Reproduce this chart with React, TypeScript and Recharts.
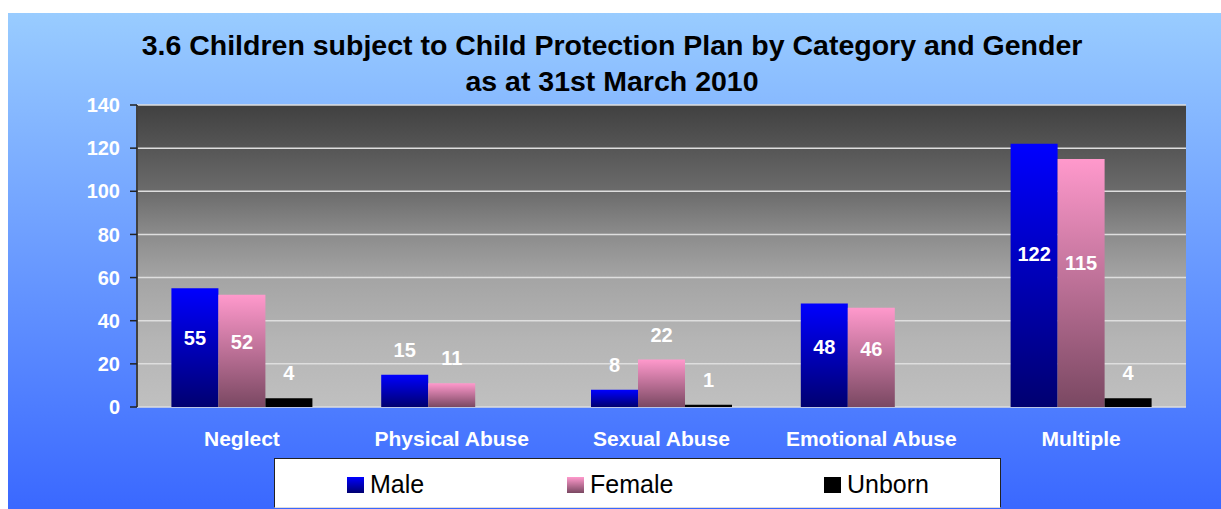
import React from 'react';
import { BarChart, Bar, XAxis, YAxis, CartesianGrid, LabelList, Legend } from 'recharts';

const categories = ['Neglect', 'Physical Abuse', 'Sexual Abuse', 'Emotional Abuse', 'Multiple'];
const male = [55, 15, 8, 48, 122];
const female = [52, 11, 22, 46, 115];
const unborn: (number | null)[] = [4, null, 1, null, 4];
const yTicks = [0, 20, 40, 60, 80, 100, 120, 140];
const edgeTicks = [0, 1, 2, 3, 4, 5];
const seriesNames = ['Male', 'Female', 'Unborn'];
const titleLines = [
  '3.6 Children subject to Child Protection Plan by Category and Gender',
  'as at 31st March 2010',
];

const data = categories.map((c, i) => ({
  category: c,
  Male: male[i],
  Female: female[i],
  Unborn: unborn[i],
}));

const FONT = '"Liberation Sans", Arial, Helvetica, sans-serif';

const swatch: Record<string, string> = {
  Male: 'linear-gradient(#0000FF, #000070)',
  Female: 'linear-gradient(#FF99CC, #7A4862)',
  Unborn: '#000000',
};
const legendSquareLeft = [72, 292, 549];

const renderLabel = (props: any) => {
  const vb = props.viewBox || props;
  const x = props.x ?? vb.x;
  const y = props.y ?? vb.y;
  const width = props.width ?? vb.width;
  const height = props.height ?? vb.height;
  const value = props.value;
  if (value == null) return null;
  const cx = x + width / 2;
  const cy = value >= 40 ? y + height * 0.42 : y - 25;
  return (
    <text
      x={cx}
      y={cy}
      fill="#ffffff"
      fontSize={20}
      fontWeight="bold"
      textAnchor="middle"
      dominantBaseline="central"
      fontFamily={FONT}
    >
      {value}
    </text>
  );
};

const renderLegend = () => (
  <div
    style={{
      position: 'relative',
      width: '100%',
      height: '100%',
      background: '#ffffff',
      borderTop: '1px solid #222',
      borderLeft: '1px solid #222',
      borderRight: '1px solid #222',
      borderBottom: '1px solid #dddddd',
      boxSizing: 'border-box',
    }}
  >
    {seriesNames.map((n, i) => (
      <React.Fragment key={n}>
        <div
          style={{
            position: 'absolute',
            left: legendSquareLeft[i],
            top: 18,
            width: 17,
            height: 16,
            background: swatch[n],
          }}
        />
        <span
          style={{
            position: 'absolute',
            left: legendSquareLeft[i] + 23,
            top: 13,
            fontSize: 25,
            lineHeight: '25px',
            color: '#000',
            fontFamily: FONT,
            whiteSpace: 'nowrap',
          }}
        >
          {n}
        </span>
      </React.Fragment>
    ))}
  </div>
);

export default function App() {
  return (
    <div
      style={{
        position: 'fixed',
        left: 8,
        top: 13,
        width: 1213,
        height: 496,
        background: 'linear-gradient(to bottom, #99CCFF, #3A68FF)',
        fontFamily: FONT,
        overflow: 'hidden',
      }}
    >
      <div
        style={{
          position: 'absolute',
          left: 0,
          top: 14,
          width: 1208,
          textAlign: 'center',
          fontSize: 28.5,
          lineHeight: '36px',
          fontWeight: 'bold',
          color: '#000',
          zIndex: 2,
        }}
      >
        {titleLines.map((t) => (
          <div key={t}>{t}</div>
        ))}
      </div>
      <BarChart
        width={1213}
        height={496}
        data={data}
        margin={{ top: 92, right: 35, bottom: 62, left: 69 }}
        barGap={0}
        barCategoryGap="16.4%"
      >
        <defs>
          <linearGradient id="plotGrad" x1="0" y1="0" x2="0" y2="1">
            <stop offset="0%" stopColor="#404040" />
            <stop offset="14%" stopColor="#555555" />
            <stop offset="29%" stopColor="#6c6c6c" />
            <stop offset="43%" stopColor="#8c8c8c" />
            <stop offset="57%" stopColor="#a4a4a4" />
            <stop offset="78%" stopColor="#b5b5b5" />
            <stop offset="100%" stopColor="#c0c0c0" />
          </linearGradient>
          <linearGradient id="gMale" x1="0" y1="0" x2="0" y2="1">
            <stop offset="0%" stopColor="#0000FF" />
            <stop offset="100%" stopColor="#000070" />
          </linearGradient>
          <linearGradient id="gFemale" x1="0" y1="0" x2="0" y2="1">
            <stop offset="0%" stopColor="#FF99CC" />
            <stop offset="100%" stopColor="#7A4862" />
          </linearGradient>
        </defs>
        <CartesianGrid
          xAxisId="b_cat"
          yAxisId="l"
          vertical={false}
          fill="url(#plotGrad)"
          fillOpacity={1}
          stroke="#dedede"
          strokeWidth={1.5}
        />
        <XAxis
          xAxisId="a_edges"
          type="number"
          domain={[0, 5]}
          ticks={edgeTicks}
          allowDataOverflow
          height={0}
          tick={false}
          tickSize={7}
          tickLine={{ stroke: '#222222', strokeWidth: 1.5 }}
          axisLine={{ stroke: '#404040', strokeWidth: 2 }}
        />
        <XAxis
          xAxisId="b_cat"
          dataKey="category"
          height={40}
          interval={0}
          axisLine={false}
          tickLine={false}
          tickSize={0}
          tickMargin={24}
          tick={{ fill: '#ffffff', fontSize: 21, fontWeight: 'bold' }}
        />
        <XAxis
          xAxisId="t"
          orientation="top"
          type="number"
          domain={[0, 5]}
          allowDataOverflow
          height={0}
          tick={false}
          tickLine={false}
          axisLine={{ stroke: '#888888', strokeWidth: 2 }}
        />
        <YAxis
          yAxisId="l"
          width={60}
          domain={[0, 140]}
          ticks={yTicks}
          interval={0}
          tickSize={7}
          tickMargin={10}
          tickLine={{ stroke: '#222222', strokeWidth: 1.5 }}
          axisLine={{ stroke: '#404040', strokeWidth: 2 }}
          tick={{ fill: '#ffffff', fontSize: 20, fontWeight: 'bold' }}
        />
        <YAxis
          yAxisId="r"
          orientation="right"
          width={0}
          domain={[0, 140]}
          allowDataOverflow
          tick={false}
          tickLine={false}
          axisLine={{ stroke: '#888888', strokeWidth: 2 }}
        />
        <Legend
          layout="horizontal"
          verticalAlign="middle"
          align="center"
          content={renderLegend}
          wrapperStyle={{ left: 266, top: 445, width: 727, height: 50 }}
        />
        <Bar xAxisId="b_cat" yAxisId="l" dataKey="Male" fill="url(#gMale)" isAnimationActive={false}>
          <LabelList dataKey="Male" content={renderLabel} />
        </Bar>
        <Bar xAxisId="b_cat" yAxisId="l" dataKey="Female" fill="url(#gFemale)" isAnimationActive={false}>
          <LabelList dataKey="Female" content={renderLabel} />
        </Bar>
        <Bar xAxisId="b_cat" yAxisId="l" dataKey="Unborn" fill="#000000" isAnimationActive={false}>
          <LabelList dataKey="Unborn" content={renderLabel} />
        </Bar>
      </BarChart>
    </div>
  );
}
